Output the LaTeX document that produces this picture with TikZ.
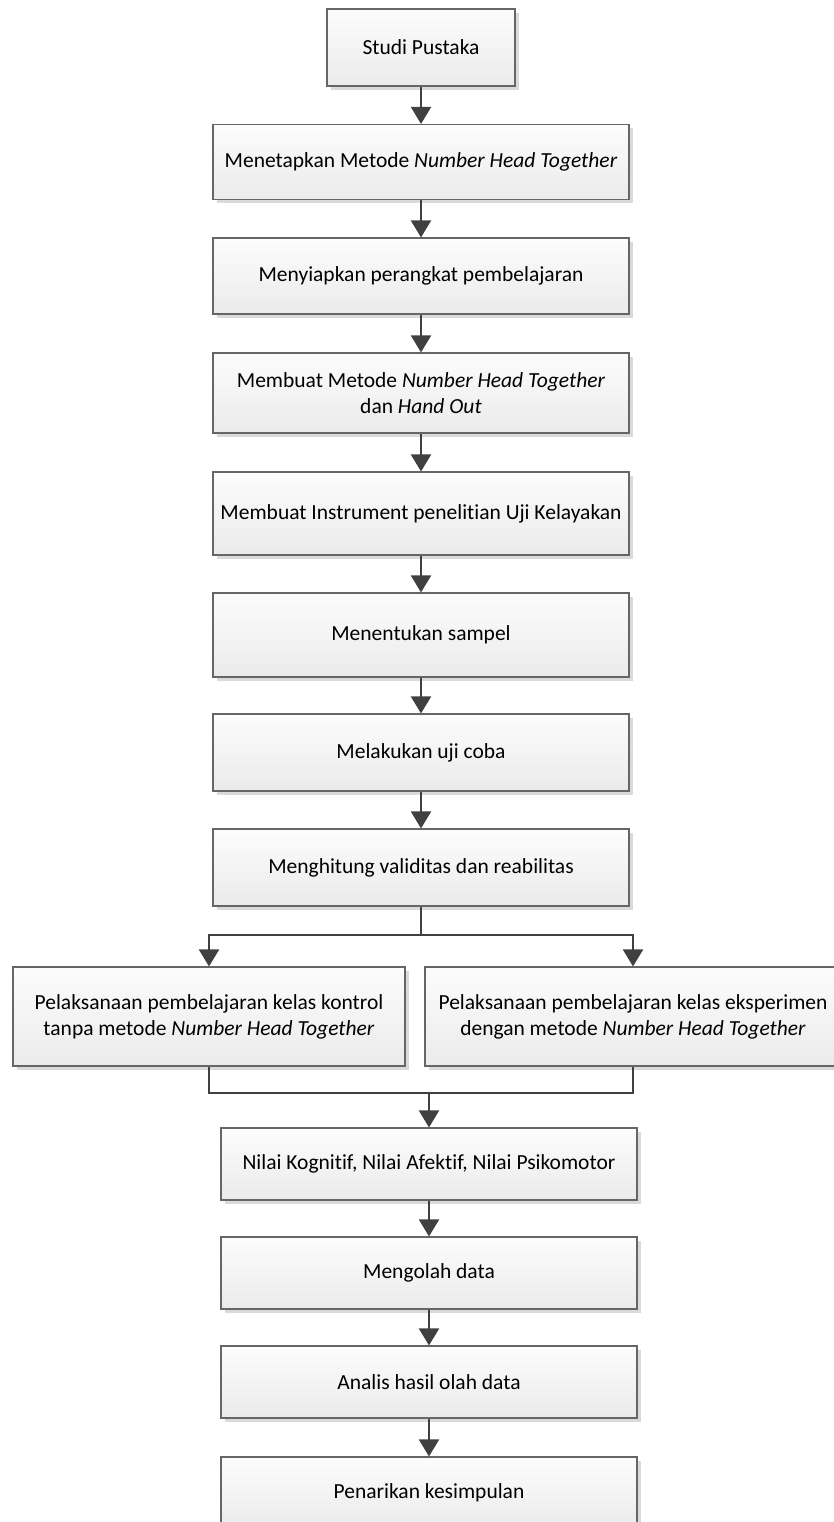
\documentclass[tikz,border=0pt]{standalone}
\usepackage{fontspec}
\setmainfont[Ligatures=NoCommon]{Carlito}
\usetikzlibrary{arrows.meta,shadows}
\definecolor{linec}{HTML}{404040}
\definecolor{boxline}{HTML}{666666}
\definecolor{shadowc}{HTML}{DADADA}
\tikzset{
  box/.style={draw=boxline, line width=1.1pt, rectangle, align=center,
    top color=white!99!black, bottom color=white!92!black,
    drop shadow={shadow xshift=4pt, shadow yshift=-4pt, fill=shadowc, opacity=1},
    font=\fontsize{21.5}{26}\selectfont, inner sep=0pt},
  conn/.style={draw=linec, line width=2pt},
  arr/.style={conn, -{Triangle[width=20pt,length=17pt]}},
}
\begin{document}
\begin{tikzpicture}[x=1pt,y=-1pt]
\useasboundingbox (0,0) rectangle (834,1522);
\clip (0,0) rectangle (834,1522);
\node[box, minimum width=188pt, minimum height=77pt] (n1) at (421,47.5) {Studi Pustaka};
\node[box, minimum width=416pt, minimum height=75pt] (n2) at (421,162) {Menetapkan Metode \textit{Number Head Together}};
\node[box, minimum width=416pt, minimum height=76pt] (n3) at (421,276) {Menyiapkan perangkat pembelajaran};
\node[box, minimum width=416pt, minimum height=80pt] (n4) at (421,393) {Membuat Metode \textit{Number Head Together}\\dan \textit{Hand Out}};
\node[box, minimum width=416pt, minimum height=83pt] (n5) at (421,513.5) {Membuat Instrument penelitian Uji Kelayakan};
\node[box, minimum width=416pt, minimum height=84pt] (n6) at (421,635) {Menentukan sampel};
\node[box, minimum width=416pt, minimum height=77pt] (n7) at (421,752.5) {Melakukan uji coba};
\node[box, minimum width=416pt, minimum height=77pt] (n8) at (421,867.5) {Menghitung validitas dan reabilitas};
\node[box, minimum width=392pt, minimum height=99pt] (nl) at (209,1016.5) {Pelaksanaan pembelajaran kelas kontrol\\tanpa metode \textit{Number Head Together}};
\node[box, minimum width=416pt, minimum height=99pt] (nr) at (633,1016.5) {Pelaksanaan pembelajaran kelas eksperimen\\dengan metode \textit{Number Head Together}};
\node[box, minimum width=416pt, minimum height=72pt] (n9) at (429,1164) {Nilai Kognitif, Nilai Afektif, Nilai Psikomotor};
\node[box, minimum width=416pt, minimum height=72pt] (n10) at (429,1273) {Mengolah data};
\node[box, minimum width=416pt, minimum height=72pt] (n11) at (429,1382) {Analis hasil olah data};
\node[box, minimum width=416pt, minimum height=72pt] (n12) at (429,1493) {Penarikan kesimpulan};
\draw[arr] (n1.south) -- (n2.north);
\draw[arr] (n2.south) -- (n3.north);
\draw[arr] (n3.south) -- (n4.north);
\draw[arr] (n4.south) -- (n5.north);
\draw[arr] (n5.south) -- (n6.north);
\draw[arr] (n6.south) -- (n7.north);
\draw[arr] (n7.south) -- (n8.north);
\draw[conn] (n8.south) -- ++(0,28) coordinate (split);
\draw[arr] (split) -| (nl.north);
\draw[arr] (split) -| (nr.north);
\draw[conn] (nl.south) -- ++(0,26) coordinate (mergel) -| (nr.south);
\coordinate (merge) at (n9.north |- mergel);
\draw[arr] (merge) -- (n9.north);
\draw[arr] (n9.south) -- (n10.north);
\draw[arr] (n10.south) -- (n11.north);
\draw[arr] (n11.south) -- (n12.north);
\end{tikzpicture}
\end{document}
